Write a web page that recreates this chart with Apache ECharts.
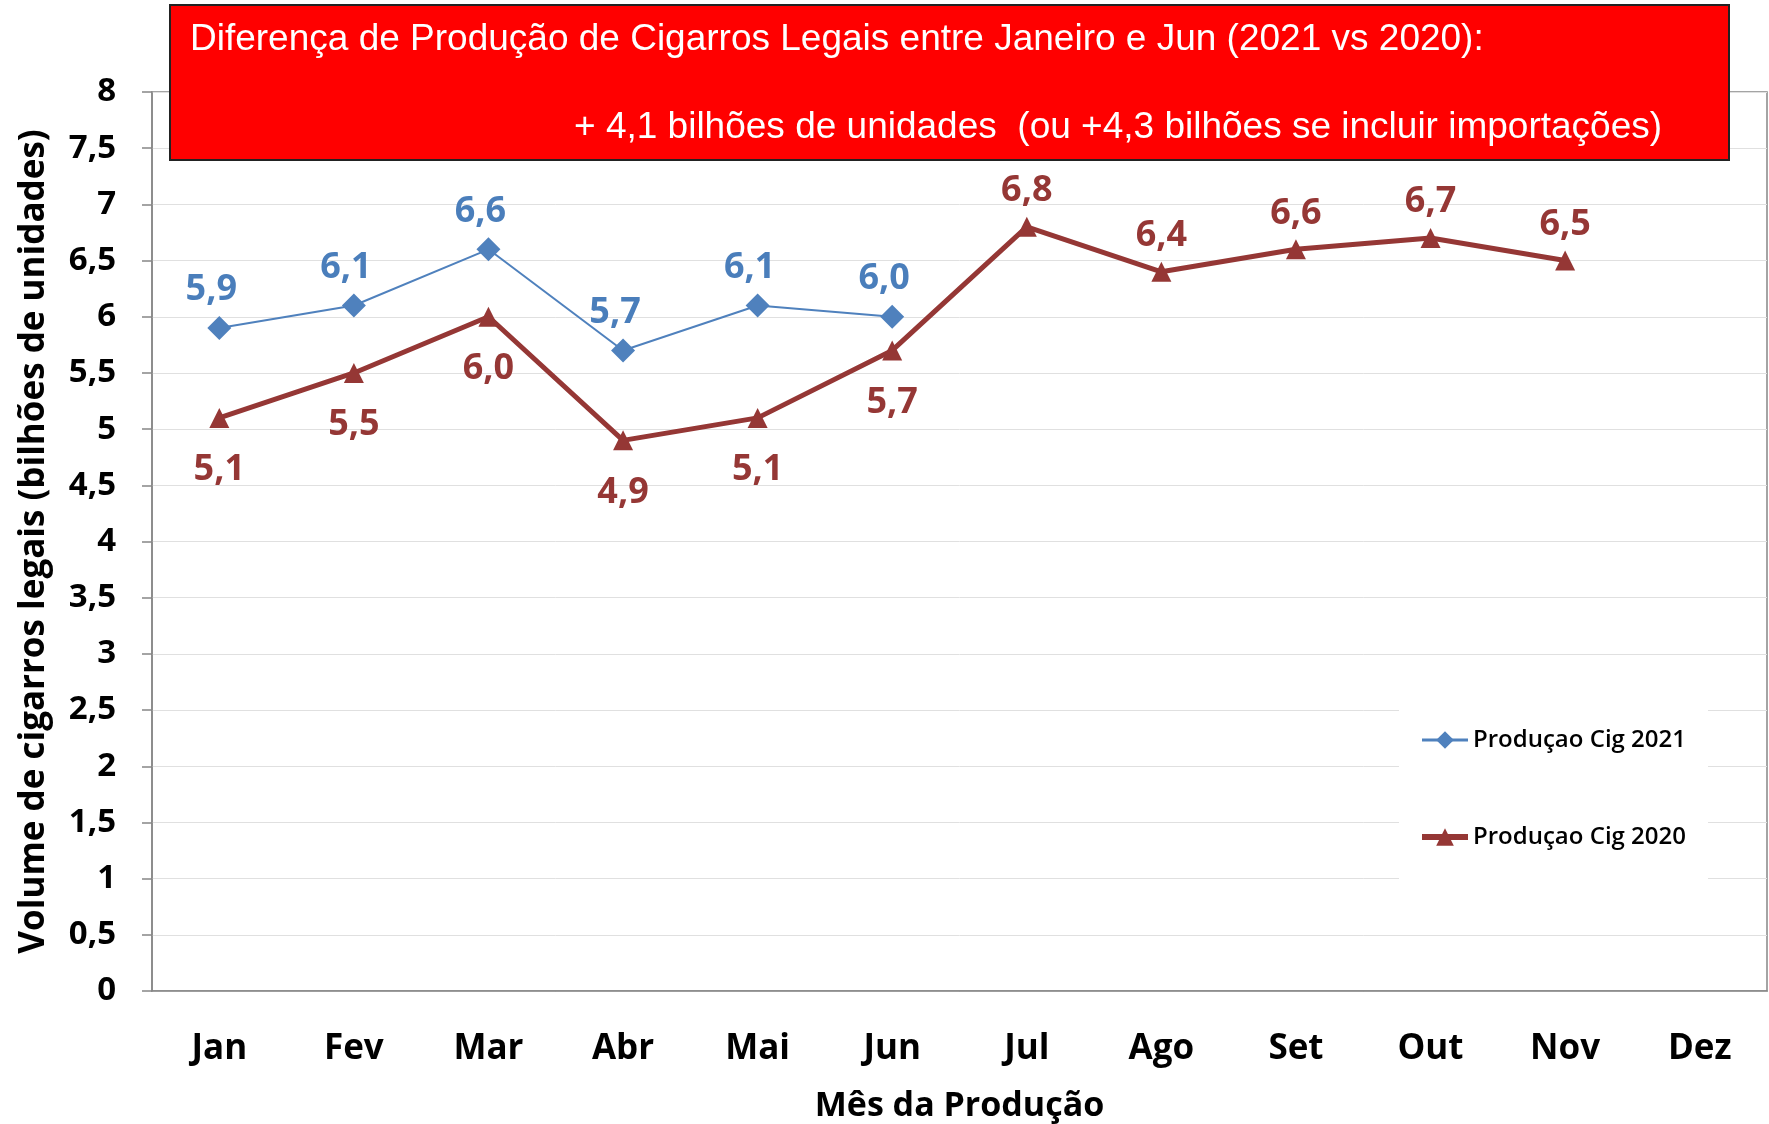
<!DOCTYPE html>
<html>
<head>
<meta charset="utf-8">
<script src="https://cdn.jsdelivr.net/npm/echarts@6/dist/echarts.min.js"></script>
<style>
  html, body { margin: 0; padding: 0; background: #fff; }
  #chart { width: 1769px; height: 1124px; }
</style>
</head>
<body>
<div id="chart"></div>
<script>
// months on the x axis
const months = ["Jan", "Fev", "Mar", "Abr", "Mai", "Jun", "Jul", "Ago", "Set", "Out", "Nov", "Dez"];
// billions of units
const prod2021 = [5.9, 6.1, 6.6, 5.7, 6.1, 6.0, null, null, null, null, null, null];
const prod2020 = [5.1, 5.5, 6.0, 4.9, 5.1, 5.7, 6.8, 6.4, 6.6, 6.7, 6.5, null];
const seriesNames = ["Produçao Cig 2021", "Produçao Cig 2020"];
const titleLine1 = "Diferença de Produção de Cigarros Legais entre Janeiro e Jun (2021 vs 2020):";
const titleLine2 = "+ 4,1 bilhões de unidades  (ou +4,3 bilhões se incluir importações)";

const BLUE = "#4f81bd";
const RED = "#953735";
const FONT = "'Open Sans', 'Noto Sans', sans-serif";
const TITLE_FONT = "37px 'Liberation Sans', Arial, sans-serif";
const comma = (v) => String(v).replace(".", ",");

const chart = echarts.init(document.getElementById("chart"));

chart.setOption({
  backgroundColor: "#ffffff",
  animation: false,
  grid: {
    left: 152, right: 2, top: 92, bottom: 133,
    outerBoundsMode: "none",
    show: true, borderColor: "#868686", borderWidth: 1.5
  },
  legend: {
    orient: "vertical",
    left: 1399,
    top: 690,
    backgroundColor: "#ffffff",
    padding: [38, 22, 44, 20],
    itemWidth: 46,
    itemHeight: 22,
    itemGap: 73,
    textStyle: { fontFamily: FONT, fontSize: 24, fontWeight: 600, color: "#000" },
    data: [
      { name: seriesNames[0], lineStyle: { width: 3 } },
      { name: seriesNames[1], lineStyle: { width: 6 } }
    ]
  },
  xAxis: {
    type: "category",
    data: months,
    boundaryGap: true,
    name: "Mês da Produção",
    nameLocation: "middle",
    nameGap: 98,
    nameTextStyle: { fontFamily: FONT, fontSize: 34, fontWeight: "bold", color: "#000" },
    axisLine: { lineStyle: { color: "#868686", width: 1.5 } },
    axisTick: { show: false },
    axisLabel: { margin: 41, fontFamily: FONT, fontSize: 35, fontWeight: "bold", color: "#000" }
  },
  yAxis: {
    type: "value",
    min: 0, max: 8, interval: 0.5,
    name: "Volume de cigarros legais (bilhões de unidades)",
    nameLocation: "middle",
    nameGap: 100,
    nameTextStyle: { fontFamily: FONT, fontSize: 35, fontWeight: "bold", color: "#000" },
    axisLine: { show: true, lineStyle: { color: "#868686", width: 1.5 } },
    axisTick: { show: true, inside: false, length: 10, lineStyle: { color: "#868686", width: 1.5 } },
    axisLabel: { margin: 36, fontFamily: FONT, fontSize: 33, fontWeight: "bold", color: "#000", formatter: comma },
    splitLine: { lineStyle: { color: "#e0e0e0", width: 1 } }
  },
  series: [
    {
      name: seriesNames[0],
      type: "line",
      data: prod2021,
      symbol: "diamond",
      symbolSize: 24,
      lineStyle: { color: BLUE, width: 2 },
      itemStyle: { color: BLUE },
      label: {
        show: true, position: "top", distance: 8, offset: [-8, 0],
        fontFamily: FONT, fontSize: 36, fontWeight: "bold", color: "#4a7ebb",
        formatter: (p) => comma(p.value.toFixed(1))
      },
      z: 3
    },
    {
      name: seriesNames[1],
      type: "line",
      data: prod2020.map((v, i) => ({
        value: v,
        // below the point where the 2021 line sits above, above it otherwise
        label: { position: prod2021[i] != null ? "bottom" : "top", distance: prod2021[i] != null ? 24 : 8 }
      })),
      symbol: "triangle",
      symbolSize: 20,
      lineStyle: { color: RED, width: 5 },
      itemStyle: { color: RED },
      label: {
        show: true,
        fontFamily: FONT, fontSize: 36, fontWeight: "bold", color: RED,
        formatter: (p) => comma(p.value.toFixed(1))
      },
      z: 2
    }
  ],
  graphic: [
    {
      type: "rect",
      z: 100,
      shape: { x: 170, y: 5, width: 1559, height: 155 },
      style: { fill: "#ff0000", stroke: "#222222", lineWidth: 2 }
    },
    {
      type: "text",
      z: 101,
      x: 190, y: 40,
      style: { text: titleLine1, fill: "#ffffff", font: TITLE_FONT, verticalAlign: "middle", align: "left" }
    },
    {
      type: "text",
      z: 101,
      x: 574, y: 128,
      style: { text: titleLine2, fill: "#ffffff", font: TITLE_FONT, verticalAlign: "middle", align: "left" }
    }
  ]
});
</script>
</body>
</html>
